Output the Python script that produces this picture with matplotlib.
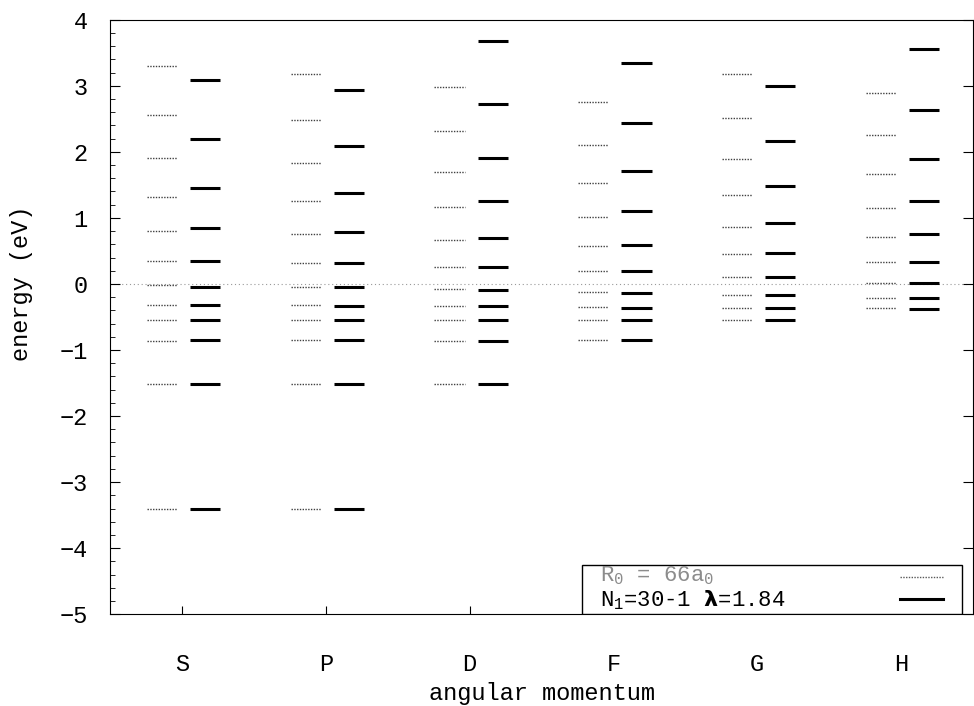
import numpy as np
import matplotlib
matplotlib.use('Agg')
import matplotlib.pyplot as plt
from matplotlib.patches import Rectangle
from matplotlib.ticker import MultipleLocator

plt.rcParams['font.family'] = ['Liberation Mono', 'DejaVu Sans']
plt.rcParams['mathtext.fontset'] = 'custom'
plt.rcParams['mathtext.rm'] = 'Liberation Mono'
plt.rcParams['mathtext.bf'] = 'DejaVu Sans:bold'

## angular momentum channels
labels = ['S', 'P', 'D', 'F', 'G', 'H']

## energy levels (eV), R0 = 66 a0 (dotted)
box_S = [3.30, 2.56, 1.91, 1.32, 0.80, 0.35, -0.02, -0.32, -0.55, -0.86, -1.51, -3.41]
box_P = [3.18, 2.48, 1.83, 1.26, 0.75, 0.32, -0.04, -0.32, -0.55, -0.85, -1.51, -3.40]
box_D = [2.98, 2.31, 1.70, 1.16, 0.67, 0.26, -0.07, -0.33, -0.55, -0.86, -1.52]
box_F = [2.75, 2.11, 1.53, 1.02, 0.57, 0.19, -0.12, -0.35, -0.55, -0.85]
box_G = [3.18, 2.51, 1.89, 1.35, 0.87, 0.46, 0.11, -0.16, -0.36, -0.55]
box_H = [2.89, 2.25, 1.66, 1.15, 0.71, 0.33, 0.02, -0.21, -0.37]

## energy levels (eV), N1 = 30-1, lambda = 1.84 (solid)
lam_S = [3.09, 2.19, 1.45, 0.84, 0.35, -0.04, -0.32, -0.55, -0.85, -1.52, -3.41]
lam_P = [2.94, 2.09, 1.38, 0.79, 0.32, -0.05, -0.33, -0.55, -0.85, -1.52, -3.41]
lam_D = [3.68, 2.72, 1.91, 1.25, 0.70, 0.26, -0.09, -0.34, -0.55, -0.86, -1.52]
lam_F = [3.35, 2.44, 1.71, 1.10, 0.59, 0.19, -0.13, -0.36, -0.55, -0.85]
lam_G = [3.00, 2.17, 1.49, 0.92, 0.47, 0.10, -0.17, -0.36, -0.55]
lam_H = [3.55, 2.64, 1.89, 1.25, 0.75, 0.34, 0.02, -0.22, -0.38]

box_levels = [box_S, box_P, box_D, box_F, box_G, box_H]
lam_levels = [lam_S, lam_P, lam_D, lam_F, lam_G, lam_H]

box_label = r'R$_0$ = 66a$_0$'
lam_label = r'N$_1$=30-1 $\mathbf{\lambda}$=1.84'

fig = plt.figure(figsize=(9.74, 7.06), dpi=100)
ax = fig.add_axes([0.113, 0.130, 0.886, 0.842])

## zero of energy
ax.axhline(0, color='0.6', lw=0.8, ls=(0, (1, 2.5)), zorder=0)

half = 0.105
for i in range(len(labels)):
    x = i + 1
    ax.hlines(box_levels[i], x - 0.14 - half, x - 0.14 + half,
              colors='0.25', lw=1.0, linestyles=(0, (1, 1)))
    ax.hlines(lam_levels[i], x + 0.16 - half, x + 0.16 + half,
              colors='black', lw=2.2)

ax.set_xlim(0.5, 6.5)
ax.set_ylim(-5, 4)
ax.set_xticks(range(1, 7))
ax.set_xticklabels(labels)
ax.yaxis.set_major_locator(MultipleLocator(1))
ax.yaxis.set_minor_locator(MultipleLocator(0.2))
ax.tick_params(axis='x', direction='in', length=6, pad=28, labelsize=17)
ax.tick_params(axis='y', which='major', direction='in', length=7, pad=16,
               labelsize=17, right=True)
ax.tick_params(axis='y', which='minor', direction='in', length=3.5, right=False)

ax.set_xlabel('angular momentum', fontsize=17, labelpad=4)
ax.set_ylabel('energy (eV)', fontsize=17)
ax.yaxis.set_label_coords(-0.089, 0.557)

## key box in the lower right corner, samples on the right (gnuplot style)
ax.add_patch(Rectangle((0.547, 0.0), 0.44, 0.0825, transform=ax.transAxes,
                       facecolor='white', edgecolor='black', lw=1.0, zorder=5))
ax.text(0.568, 0.064, box_label, transform=ax.transAxes, fontsize=16,
        color='0.55', va='center', ha='left', zorder=6)
ax.text(0.568, 0.024, lam_label, transform=ax.transAxes, fontsize=16,
        color='black', va='center', ha='left', zorder=6)
ax.plot([0.915, 0.965], [0.062, 0.062], transform=ax.transAxes,
        color='0.35', lw=1.0, ls=(0, (1, 1)), zorder=6)
ax.plot([0.915, 0.965], [0.026, 0.026], transform=ax.transAxes,
        color='black', lw=2.2, zorder=6)

fig.savefig('out.png', dpi=100)
